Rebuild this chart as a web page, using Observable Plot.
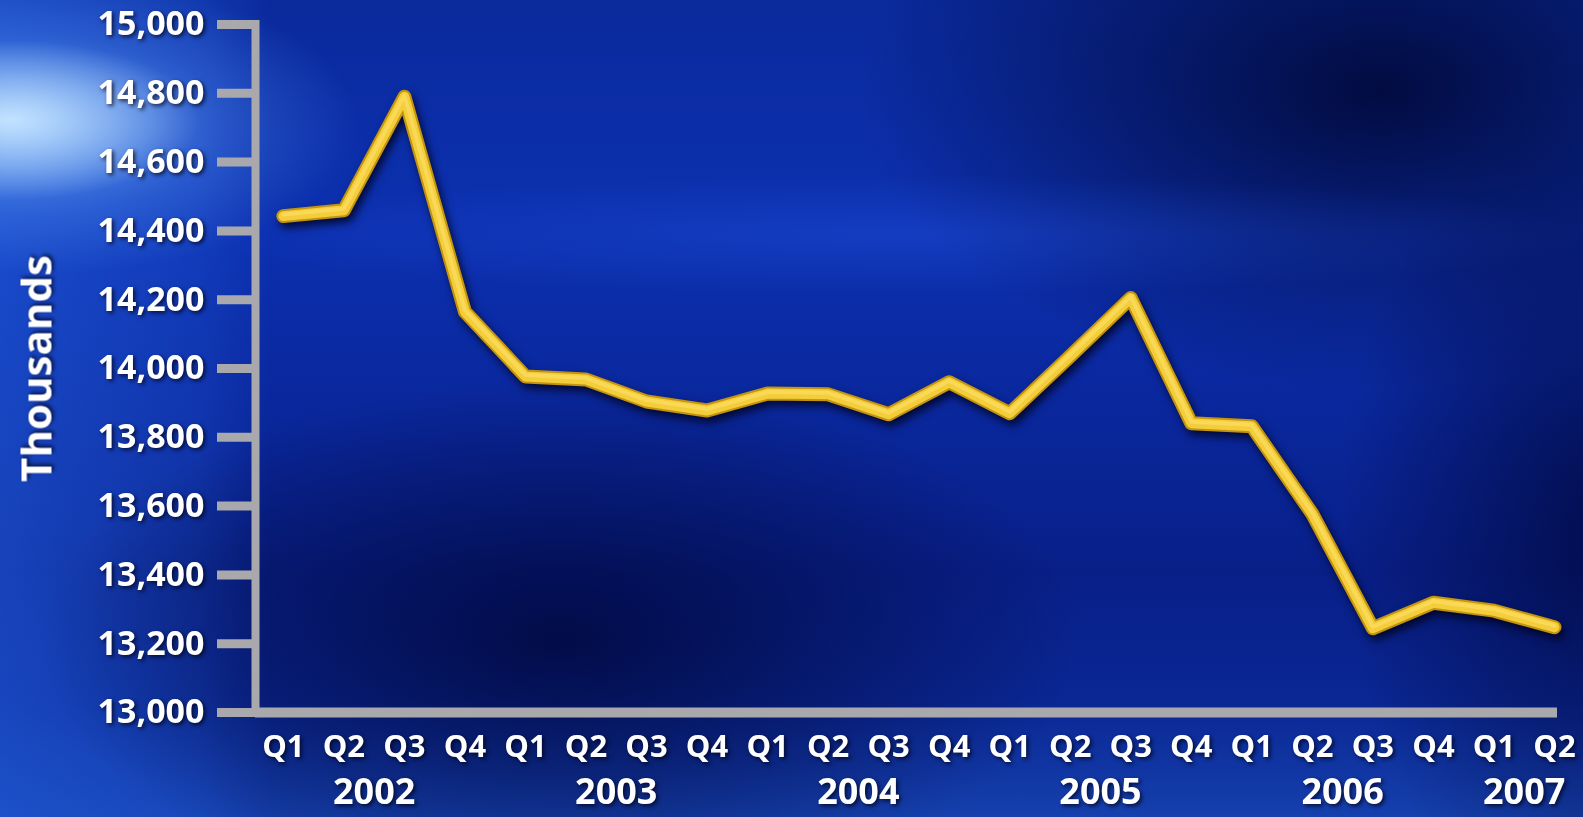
<!DOCTYPE html>
<html>
<head>
<meta charset="utf-8">
<script src="https://cdn.jsdelivr.net/npm/d3@7"></script>
<script src="https://cdn.jsdelivr.net/npm/@observablehq/plot@0.6"></script>
<style>
  html, body { margin: 0; padding: 0; background: #071d80; }
  #wrap {
    position: relative; width: 1583px; height: 817px; overflow: hidden;
    background:
      radial-gradient(ellipse 190px 80px at 10px 120px, rgba(200,230,255,0.95), rgba(200,230,255,0) 100%),
      radial-gradient(ellipse 330px 150px at 30px 125px, rgba(110,170,250,0.85), rgba(80,140,240,0.35) 60%, rgba(40,90,220,0) 100%),
      radial-gradient(ellipse 700px 60px at 900px 235px, rgba(40,90,230,0.3), rgba(40,90,230,0) 100%),
      radial-gradient(ellipse 520px 300px at 1380px 90px, rgba(0,6,48,0.85), rgba(0,6,48,0) 100%),
      radial-gradient(ellipse 520px 260px at 560px 640px, rgba(0,6,55,0.8), rgba(0,6,55,0) 100%),
      radial-gradient(ellipse 260px 420px at 1600px 520px, rgba(0,6,55,0.7), rgba(0,6,55,0) 100%),
      linear-gradient(90deg, rgba(35,95,225,0.55) 0px, rgba(35,95,225,0.25) 200px, rgba(35,95,225,0) 270px),
      linear-gradient(180deg, #0a2a9c 0%, #0c30b0 28%, #0a289e 48%, #081f88 70%, #0a2794 86%, #1540ad 100%);
  }
  #wrap svg { position: absolute; left: 0; top: 0; }
  #wrap svg text { filter: drop-shadow(2px 2px 2px rgba(0,0,20,0.75)); }
  g[aria-description="glow"] path { filter: drop-shadow(3px 5px 4px rgba(0,0,25,0.8)); }
</style>
</head>
<body>
<div id="wrap"></div>
<script>
// ---- data ----
const quarterLabels = ["Q1","Q2","Q3","Q4","Q1","Q2","Q3","Q4","Q1","Q2","Q3","Q4",
                       "Q1","Q2","Q3","Q4","Q1","Q2","Q3","Q4","Q1","Q2"];
const pointYears = [2002,2002,2002,2002,2003,2003,2003,2003,2004,2004,2004,2004,
                    2005,2005,2005,2005,2006,2006,2006,2006,2007,2007];
const values = [14443, 14460, 14790, 14165, 13977, 13968, 13904, 13878, 13927, 13925, 13867,
                13960, 13870, 14036, 14205, 13841, 13832, 13577, 13245, 13319, 13296, 13248];
const yearLabels = [2002, 2003, 2004, 2005, 2006, 2007];
const yTicks = [13000, 13200, 13400, 13600, 13800, 14000, 14200, 14400, 14600, 14800, 15000];

// ---- derived table ----
const data = values.map((v, i) => ({i, value: v, q: quarterLabels[i], year: pointYears[i]}));
const yearPos = yearLabels.map(y => d3.mean(data.filter(d => d.year === y), d => d.i));
const xDomain = [-0.46, data.length - 1 + 0.05];

const axisGray = "#a9a9ad";
const font = "'Open Sans', 'DejaVu Sans', sans-serif";

const chart = Plot.plot({
  width: 1583,
  height: 817,
  marginLeft: 255,
  marginRight: 26,
  marginTop: 24,
  marginBottom: 105,
  style: {background: "transparent", color: "white", fontFamily: font, overflow: "visible"},
  x: {type: "linear", domain: xDomain},
  y: {domain: [13000, 15000]},
  marks: [
    // y axis ticks and labels
    Plot.axisY({ticks: yTicks, tickSize: 38, tickPadding: 13, stroke: axisGray, strokeWidth: 9,
                tickFormat: d3.format(","), fontSize: 34, fontWeight: "bold", fill: "white", label: null}),
    // axis lines
    Plot.ruleX([xDomain[0]], {y1: 13000, y2: 15000, stroke: axisGray, strokeWidth: 8, strokeLinecap: "square"}),
    Plot.ruleY([13000], {stroke: axisGray, strokeWidth: 10}),
    // quarter labels
    Plot.axisX({ticks: data.map(d => d.i), tickFormat: i => quarterLabels[i], tickSize: 0, tickPadding: 22,
                fontSize: 31, fontWeight: "bold", fill: "white", label: null}),
    // year labels
    Plot.axisX({ticks: yearPos, tickFormat: (p, k) => String(yearLabels[k]), tickSize: 0, tickPadding: 66,
                fontSize: 36, fontWeight: "bold", fill: "white", label: null}),
    // y label
    Plot.text(["Thousands"], {frameAnchor: "left", textAnchor: "middle", rotate: -90, dx: -217,
                              fontSize: 42, fontWeight: "bold", fill: "white"}),
    // line (gold base + yellow core)
    Plot.line(data, {x: "i", y: "value", stroke: "#c39410", strokeWidth: 14, strokeLinejoin: "round",
                     strokeLinecap: "round", ariaDescription: "glow"}),
    Plot.line(data, {x: "i", y: "value", stroke: "#f3cd3a", strokeWidth: 10, strokeLinejoin: "round",
                     strokeLinecap: "round"}),
    Plot.line(data, {x: "i", y: "value", stroke: "#fde16a", strokeWidth: 4, strokeLinejoin: "round",
                     strokeLinecap: "round", dy: -1.5, strokeOpacity: 0.6})
  ]
});
document.getElementById("wrap").appendChild(chart);
</script>
</body>
</html>
